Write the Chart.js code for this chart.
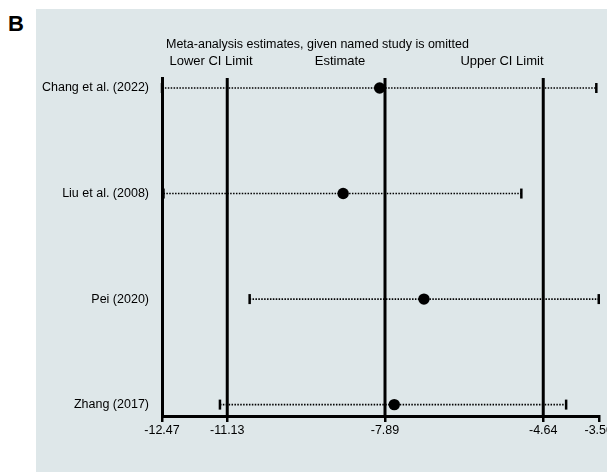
<!DOCTYPE html>
<html>
<head>
<meta charset="utf-8">
<script src="https://cdn.jsdelivr.net/npm/chart.js@4.4.1/dist/chart.umd.min.js"></script>
<style>
  html, body { margin: 0; padding: 0; background: #fff; overflow: hidden; width: 607px; height: 472px; }
  #panel { position: absolute; left: 36px; top: 9px; width: 600px; height: 470px; background: #dee7e9; }
  #letter { position: absolute; left: 8px; top: 11px; font: bold 22px "Liberation Sans", Arial, sans-serif; color: #000; }
  #wrap { position: absolute; left: 0; top: 0; }
</style>
</head>
<body>
<div id="panel"></div>
<div id="letter">B</div>
<div id="wrap"><canvas id="chart" width="614" height="472"></canvas></div>
<script>
// données
const studies = ['Chang et al. (2022)', 'Liu et al. (2008)', 'Pei (2020)', 'Zhang (2017)'];
const estimates = [-8.00, -8.75, -7.09, -7.70];
const lowerCI = [-12.47, -12.44, -10.67, -11.28];
const upperCI = [-3.55, -5.09, -3.50, -4.17];
const refLines = [-11.13, -7.89, -4.64]; // lower CI, estimate, upper CI (all studies)
const xTicks = [-12.47, -11.13, -7.89, -4.64, -3.50];
const headerText = 'Meta-analysis estimates, given named study is omitted';
const columnHeaders = ['Lower CI Limit', 'Estimate', 'Upper CI Limit'];

const yTop = 0.905, yBottom = 4.108;
const font = "'Liberation Sans', Arial, sans-serif";

const datasets = [];

// lignes verticales de référence
refLines.forEach(v => {
    datasets.push({
        data: [{ x: v, y: yTop }, { x: v, y: yBottom }],
        showLine: true,
        borderColor: '#000',
        borderWidth: 3,
        pointRadius: 0,
        order: 2
    });
});

// une ligne pointillée par étude
studies.forEach((s, i) => {
    datasets.push({
        label: s,
        data: [
            { x: lowerCI[i], y: i + 1 },
            { x: estimates[i], y: i + 1 },
            { x: upperCI[i], y: i + 1 }
        ],
        showLine: true,
        borderColor: '#000',
        borderWidth: 1.6,
        borderDash: [1.5, 1.4],
        pointStyle: ['line', 'circle', 'line'],
        rotation: [90, 0, 90],
        pointRadius: [5, 5.7, 5],
        pointBorderWidth: [2.5, 0, 2.5],
        pointBackgroundColor: '#000',
        pointBorderColor: '#000',
        clip: false,
        order: 1
    });
});

// titres au-dessus du graphique
const headerPlugin = {
    id: 'headers',
    afterDraw(chart) {
        const c = chart.ctx;
        const left = chart.chartArea.left;
        c.save();
        c.fillStyle = '#000';
        c.textBaseline = 'middle';
        c.font = '12.5px ' + font;
        c.textAlign = 'left';
        c.fillText(headerText, left + 4, 45);
        c.font = '13px ' + font;
        c.textAlign = 'center';
        const offsets = [49, 178, 340];
        columnHeaders.forEach((t, i) => c.fillText(t, left + offsets[i], 61.5));
        c.restore();
    }
};

new Chart(document.getElementById('chart').getContext('2d'), {
    type: 'scatter',
    data: { datasets: datasets },
    options: {
        responsive: false,
        animation: false,
        layout: { padding: { top: 78, left: 0, right: 0, bottom: 0 } },
        plugins: { legend: { display: false }, tooltip: { enabled: false } },
        scales: {
            x: {
                type: 'linear',
                min: -12.47,
                max: -3.50,
                afterBuildTicks: scale => { scale.ticks = xTicks.map(v => ({ value: v })); },
                afterFit: scale => { scale.height = 56; },
                ticks: {
                    color: '#000',
                    font: { family: font, size: 12.5 },
                    padding: 1,
                    callback: v => v.toFixed(2)
                },
                grid: { drawOnChartArea: false, drawTicks: true, tickLength: 6, lineWidth: 2.5, color: '#000' },
                border: { display: true, width: 3, color: '#000' }
            },
            y: {
                type: 'linear',
                reverse: true,
                min: yTop,
                max: yBottom,
                afterBuildTicks: scale => { scale.ticks = studies.map((s, i) => ({ value: i + 1 })); },
                afterFit: scale => { scale.width = 162; },
                ticks: {
                    color: '#000',
                    font: { family: font, size: 12.5 },
                    padding: 13,
                    callback: v => studies[v - 1]
                },
                grid: { drawOnChartArea: false, drawTicks: false, color: 'rgba(0,0,0,0)' },
                border: { display: true, width: 3, color: '#000' }
            }
        }
    },
    plugins: [headerPlugin]
});
</script>
</body>
</html>
